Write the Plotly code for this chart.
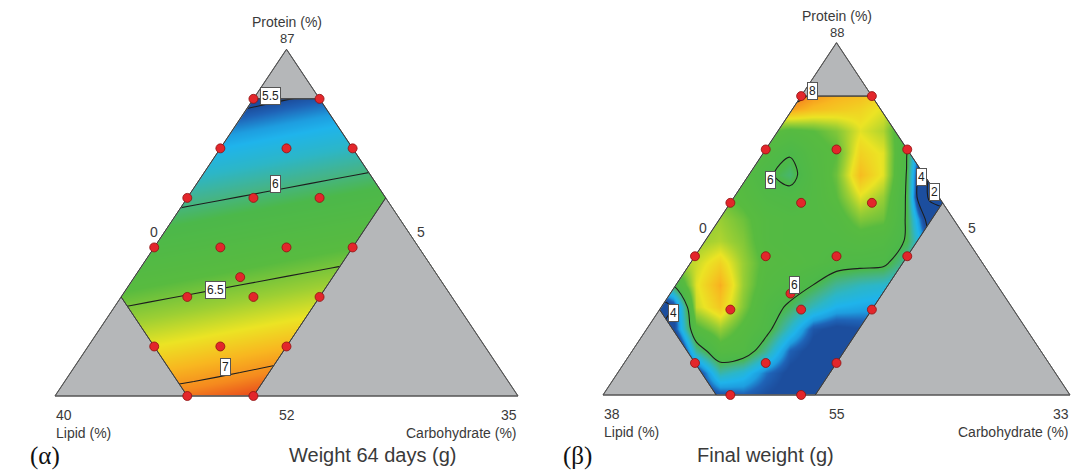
import numpy as np
import plotly.graph_objects as go

W, H = 1072, 470

# ---------------- Panel (α): Weight 64 days (g) ----------------
a_title = "Weight 64 days (g)"
a_tag = "(α)"
a_pmin, a_lmin, a_cmin, a_span = 52, 5, 0, 35
a_vertex_ticks = ["87", "40", "35"]      # protein / lipid / carbohydrate vertex
a_edge_ticks = ["52", "0", "5"]          # base / left edge / right edge
a_protein = [82, 82, 77, 77, 77, 72, 72, 72, 67, 67, 67, 67, 62, 62, 62, 57, 57, 57, 52, 52, 64]
a_lipid   = [10, 5, 15, 10, 5, 20, 15, 10, 25, 20, 15, 10, 25, 20, 15, 30, 25, 20, 30, 25, 20]
a_carb    = [0, 5, 0, 5, 10, 0, 5, 10, 0, 5, 10, 15, 5, 10, 15, 5, 10, 15, 10, 15, 8]
a_region_protein = [82, 82, 72, 52, 52, 62]
a_region_lipid   = [10, 5, 5, 25, 30, 30]
a_region_carb    = [0, 5, 15, 15, 10, 0]
a_grid_x = [0.10, 0.20, 0.30, 0.40, 0.50, 0.60, 0.70, 0.80]
a_grid_y = [0.0, 0.125, 0.25, 0.375, 0.5, 0.625, 0.75, 0.875, 1.0]
a_grid_z = [
    [6.98, 7.04, 7.08, 7.13, 7.19, 7.24, 7.29, 7.34],
    [6.74, 6.79, 6.84, 6.89, 6.94, 6.99, 7.04, 7.09],
    [6.49, 6.54, 6.59, 6.64, 6.69, 6.74, 6.79, 6.84],
    [6.24, 6.29, 6.34, 6.39, 6.44, 6.49, 6.54, 6.59],
    [6.00, 6.05, 6.10, 6.15, 6.20, 6.25, 6.30, 6.35],
    [5.75, 5.80, 5.85, 5.90, 5.95, 6.00, 6.05, 6.10],
    [5.50, 5.55, 5.60, 5.65, 5.70, 5.75, 5.80, 5.85],
    [5.25, 5.30, 5.35, 5.40, 5.46, 5.51, 5.55, 5.60],
    [5.01, 5.06, 5.11, 5.16, 5.21, 5.26, 5.31, 5.36],
]
a_levels = [5.5, 7.0, 0.5]
a_label_text = ["5.5", "6", "6.5", "7"]
a_label_x = [0.466, 0.476, 0.346, 0.369]
a_label_y = [0.866, 0.612, 0.306, 0.083]

# ---------------- Panel (β): Final weight (g) ----------------
b_title = "Final weight (g)"
b_tag = "(β)"
b_pmin, b_lmin, b_cmin, b_span = 55, 5, 0, 33
b_vertex_ticks = ["88", "38", "33"]
b_edge_ticks = ["55", "0", "5"]
b_protein = [83, 83, 78, 78, 78, 73, 73, 73, 68, 68, 68, 68, 63, 63, 63, 58, 58, 58, 55, 55, 64.5]
b_lipid   = [10, 5, 15, 10, 5, 20, 15, 10, 25, 20, 15, 10, 25, 20, 15, 30, 25, 20, 29, 24, 20]
b_carb    = [0, 5, 0, 5, 10, 0, 5, 10, 0, 5, 10, 15, 5, 10, 15, 5, 10, 15, 9, 14, 8.5]
b_region_protein = [83, 83, 73, 55, 55, 63]
b_region_lipid   = [10, 5, 5, 23, 30, 30]
b_region_carb    = [0, 5, 15, 15, 8, 0]
b_grid_x = [0.10, 0.15, 0.20, 0.25, 0.30, 0.35, 0.40, 0.45, 0.50, 0.55, 0.60, 0.65, 0.70, 0.75]
b_grid_y = [0.0, 0.0625, 0.125, 0.1875, 0.25, 0.3125, 0.375, 0.4375, 0.5, 0.5625,
            0.625, 0.6875, 0.75, 0.8125, 0.875]
b_grid_z = [
    [3.8, 3.8, 4.0, 4.4, 4.5, 4.3, 4.15, 4.1, 4.1, 4.2, 4.3, 4.4, 4.4, 4.4],
    [3.5, 3.5, 4.1, 5.5, 5.2, 4.6, 4.2, 4.1, 4.1, 4.2, 4.3, 4.4, 4.4, 4.4],
    [3.8, 3.0, 5.6, 6.5, 6.4, 5.6, 4.5, 4.15, 4.1, 4.3, 4.4, 4.5, 4.5, 4.5],
    [3.8, 4.2, 6.6, 7.0, 6.6, 6.2, 5.3, 4.4, 4.2, 4.3, 4.5, 4.6, 4.6, 4.6],
    [3.0, 4.1, 7.2, 7.6, 6.9, 6.3, 5.9, 5.4, 5.0, 4.9, 4.8, 4.7, 4.6, 4.6],
    [5.0, 6.0, 7.3, 7.8, 7.0, 6.5, 6.3, 6.0, 5.6, 5.4, 5.3, 5.1, 4.8, 4.6],
    [6.8, 7.0, 7.2, 7.5, 7.0, 6.6, 6.5, 6.4, 6.25, 6.2, 6.15, 5.5, 4.6, 4.5],
    [7.0, 7.1, 7.0, 7.1, 6.9, 6.5, 6.4, 6.4, 6.4, 6.5, 6.4, 5.95, 4.3, 4.0],
    [7.0, 7.0, 7.0, 7.0, 6.8, 6.5, 6.4, 6.4, 6.5, 6.9, 6.8, 5.95, 3.5, 2.5],
    [7.0, 7.0, 6.9, 6.8, 6.6, 6.3, 6.2, 6.4, 6.7, 7.3, 7.0, 5.95, 1.6, 1.2],
    [7.0, 7.0, 6.9, 6.8, 6.5, 6.1, 5.8, 6.4, 6.8, 7.7, 7.3, 5.98, 2.0, 1.5],
    [7.0, 7.0, 7.0, 7.0, 6.7, 6.4, 6.05, 6.5, 6.7, 7.5, 7.3, 6.05, 3.0, 2.0],
    [7.0, 7.0, 7.0, 7.0, 7.0, 6.8, 6.6, 6.7, 6.9, 7.3, 7.1, 6.2, 5.0, 4.0],
    [7.2, 7.2, 7.2, 7.2, 7.2, 7.6, 7.9, 7.7, 7.6, 7.5, 7.3, 6.8, 6.0, 5.0],
    [7.5, 7.5, 7.5, 7.5, 7.5, 8.0, 8.4, 8.1, 7.9, 7.8, 7.6, 7.0, 6.0, 5.0],
]
b_levels = [2, 8, 2]
b_label_text = ["8", "6", "6", "4", "4", "2"]
b_label_x = [0.449, 0.358, 0.409, 0.151, 0.682, 0.709]
b_label_y = [0.862, 0.610, 0.312, 0.232, 0.618, 0.577]

# ---------------- styling ----------------
palette = ["#1c4e9e", "#1f64b8", "#1e9ee0", "#1fb4ec", "#2cb6c8", "#44b48c",
           "#4cb84a", "#58bb40", "#9ccf34", "#ece424", "#f8b820", "#f58a1e", "#e8481c"]
a_stops = [0.00, 0.03, 0.08, 0.12, 0.20, 0.28, 0.36, 0.55, 0.66, 0.76, 0.85, 0.93, 1.00]
b_stops = [0.00, 0.06, 0.12, 0.18, 0.26, 0.34, 0.42, 0.60, 0.68, 0.76, 0.86, 0.93, 1.00]
GREY = "#b5b7b9"
EDGE = "#555555"
TXT = "#3a3a3a"
SANS = "Arial, Liberation Sans, sans-serif"
SERIF = "Times New Roman, Liberation Serif, DejaVu Serif, serif"

panels = [
    dict(ax="", title=a_title, tag=a_tag, pmin=a_pmin, lmin=a_lmin, cmin=a_cmin, span=a_span,
         vt=a_vertex_ticks, et=a_edge_ticks, P=a_protein, L=a_lipid, C=a_carb,
         rP=a_region_protein, rL=a_region_lipid, rC=a_region_carb,
         gx=a_grid_x, gy=a_grid_y, gz=a_grid_z, lev=a_levels, zmin=5.5, zmax=7.15, stops=a_stops,
         lt=a_label_text, lx=a_label_x, ly=a_label_y, smooth=0.6, top_shift=(11, 27),
         px0=55, px1=518, base=396, apex=49.3, xr=[-0.01, 1.004], yr=[-0.1, 1.1],
         title_xy=(287, 455), tag_xy=(28, 456)),
    dict(ax="2", title=b_title, tag=b_tag, pmin=b_pmin, lmin=b_lmin, cmin=b_cmin, span=b_span,
         vt=b_vertex_ticks, et=b_edge_ticks, P=b_protein, L=b_lipid, C=b_carb,
         rP=b_region_protein, rL=b_region_lipid, rC=b_region_carb,
         gx=b_grid_x, gy=b_grid_y, gz=b_grid_z, lev=b_levels, zmin=4.3, zmax=8.3, stops=b_stops,
         lt=b_label_text, lx=b_label_x, ly=b_label_y, smooth=1.0, top_shift=(10, 27),
         px0=603, px1=1070, base=395, apex=42.7, xr=[-0.01, 1.004], yr=[-0.1, 1.1],
         title_xy=(836, 455), tag_xy=(577, 456)),
]


def tern_xy(P, C, pmin, cmin, span):
    p = (np.asarray(P, float) - pmin) / span
    c = (np.asarray(C, float) - cmin) / span
    return c + p / 2.0, p


fig = go.Figure()
annotations = []
layout_axes = {}

for pn in panels:
    xa, ya = "x" + pn["ax"], "y" + pn["ax"]
    pmin, lmin, cmin, span = pn["pmin"], pn["lmin"], pn["cmin"], pn["span"]
    cs = [[s, c] for s, c in zip(pn["stops"], palette)]
    common = dict(xaxis=xa, yaxis=ya, hoverinfo="skip", showlegend=False)

    # response surface
    fig.add_trace(go.Heatmap(x=pn["gx"], y=pn["gy"], z=pn["gz"], zsmooth="best",
                             colorscale=cs, zmin=pn["zmin"], zmax=pn["zmax"],
                             showscale=False, **common))
    fig.add_trace(go.Contour(x=pn["gx"], y=pn["gy"], z=pn["gz"], autocontour=False,
                             contours=dict(start=pn["lev"][0], end=pn["lev"][1],
                                           size=pn["lev"][2], coloring="none"),
                             line=dict(color="#1e1e1e", width=1.1, smoothing=pn["smooth"]),
                             showscale=False, **common))

    # corners of the simplex
    apx, apy = tern_xy([pmin + span], [cmin], pmin, cmin, span)
    lcx, lcy = tern_xy([pmin], [cmin], pmin, cmin, span)
    ccx, ccy = tern_xy([pmin], [cmin + span], pmin, cmin, span)
    xr, yr = pn["xr"], pn["yr"]
    ex0, ex1, ey0, ey1 = xr[0] - 0.2, xr[1] + 0.2, yr[0] - 0.2, yr[1] + 0.2

    # white masks outside the simplex
    masks = [
        ([ex0, lcx[0], apx[0], apx[0], ex0], [lcy[0], lcy[0], apy[0], ey1, ey1]),
        ([ccx[0], ex1, ex1, apx[0], apx[0]], [ccy[0], ccy[0], ey1, ey1, apy[0]]),
        ([ex0, ex1, ex1, ex0], [ey0, ey0, lcy[0], lcy[0]]),
    ]
    for mx, my in masks:
        fig.add_trace(go.Scatter(x=mx, y=my, fill="toself", fillcolor="white", mode="lines",
                                 line=dict(width=1, color="white"), **common))

    # grey constrained-out corners
    rx, ry = tern_xy(pn["rP"], pn["rC"], pmin, cmin, span)
    corners = [
        ([apx[0], rx[0], rx[1]], [apy[0], ry[0], ry[1]]),
        ([lcx[0], rx[5], rx[4]], [lcy[0], ry[5], ry[4]]),
        ([ccx[0], rx[2], rx[3]], [ccy[0], ry[2], ry[3]]),
    ]
    for gxv, gyv in corners:
        fig.add_trace(go.Scatter(x=gxv + [gxv[0]], y=gyv + [gyv[0]], fill="toself",
                                 fillcolor=GREY, mode="lines",
                                 line=dict(width=1, color=EDGE), **common))
    # outlines
    fig.add_trace(go.Scatter(x=[lcx[0], apx[0], ccx[0], lcx[0]], y=[lcy[0], apy[0], ccy[0], lcy[0]],
                             mode="lines", line=dict(width=1, color=EDGE), **common))
    fig.add_trace(go.Scatter(x=list(rx) + [rx[0]], y=list(ry) + [ry[0]], mode="lines",
                             line=dict(width=1, color="#3c3c3c"), **common))

    # design points
    dx, dy = tern_xy(pn["P"], pn["C"], pmin, cmin, span)
    fig.add_trace(go.Scatter(x=dx, y=dy, mode="markers",
                             marker=dict(symbol="circle", size=9, color="#e3262b",
                                         line=dict(color="#8e1212", width=0.8)), **common))

    # contour labels
    for t, lx, ly in zip(pn["lt"], pn["lx"], pn["ly"]):
        annotations.append(dict(x=lx, y=ly, xref=xa, yref=ya, text=t, showarrow=False,
                                font=dict(family=SANS, size=12, color="#222"),
                                bgcolor="white", bordercolor="#555", borderwidth=1, borderpad=1))

    # vertex / edge tick labels and component names
    small = dict(family=SANS, size=14, color=TXT)
    num = dict(family=SANS, size=13, color=TXT)
    annotations += [
        dict(x=apx[0], y=apy[0], xref=xa, yref=ya, text=pn["vt"][0], showarrow=False,
             font=num, yanchor="middle", yshift=pn["top_shift"][0]),
        dict(x=apx[0], y=apy[0], xref=xa, yref=ya, text="Protein (%)", showarrow=False,
             font=small, yanchor="middle", yshift=pn["top_shift"][1]),
        dict(x=lcx[0], y=lcy[0], xref=xa, yref=ya, text=pn["vt"][1], showarrow=False,
             font=small, xanchor="left", yanchor="middle", yshift=-19, xshift=-1),
        dict(x=lcx[0], y=lcy[0], xref=xa, yref=ya, text="Lipid (%)", showarrow=False,
             font=small, xanchor="left", yanchor="middle", yshift=-37, xshift=-1),
        dict(x=ccx[0], y=ccy[0], xref=xa, yref=ya, text=pn["vt"][2], showarrow=False,
             font=small, xanchor="right", yanchor="middle", yshift=-19, xshift=1),
        dict(x=ccx[0], y=ccy[0], xref=xa, yref=ya, text="Carbohydrate (%)", showarrow=False,
             font=small, xanchor="right", yanchor="middle", yshift=-37, xshift=1),
        dict(x=0.5 * (lcx[0] + ccx[0]), y=lcy[0], xref=xa, yref=ya, text=pn["et"][0],
             showarrow=False, font=small, yanchor="middle", yshift=-19),
        dict(x=0.5 * (lcx[0] + apx[0]), y=0.5 * apy[0], xref=xa, yref=ya, text=pn["et"][1],
             showarrow=False, font=small, yanchor="middle", xshift=-17, yshift=-9),
        dict(x=0.5 * (ccx[0] + apx[0]), y=0.5 * apy[0], xref=xa, yref=ya, text=pn["et"][2],
             showarrow=False, font=small, yanchor="middle", xshift=19, yshift=-9),
        dict(x=pn["title_xy"][0] / W, y=1 - pn["title_xy"][1] / H, xref="paper", yref="paper",
             text=pn["title"], showarrow=False, font=dict(family=SANS, size=20, color=TXT),
             yanchor="middle"),
        dict(x=pn["tag_xy"][0] / W, y=1 - pn["tag_xy"][1] / H, xref="paper", yref="paper",
             text=pn["tag"], showarrow=False, font=dict(family=SERIF, size=25, color="#111"),
             yanchor="middle"),
    ]

    # axes placed so the simplex lands where it sits in the figure
    hpx = pn["base"] - pn["apex"]
    dom_x = [(pn["px0"] + xr[0] * (pn["px1"] - pn["px0"])) / W,
             (pn["px0"] + xr[1] * (pn["px1"] - pn["px0"])) / W]
    dom_y = [(H - (pn["base"] - yr[0] * hpx)) / H, (H - (pn["base"] - yr[1] * hpx)) / H]
    axis_style = dict(visible=False, showgrid=False, zeroline=False, fixedrange=True)
    layout_axes["xaxis" + pn["ax"]] = dict(domain=dom_x, range=xr, anchor=ya, **axis_style)
    layout_axes["yaxis" + pn["ax"]] = dict(domain=dom_y, range=yr, anchor=xa, **axis_style)

fig.update_layout(width=W, height=H, margin=dict(l=0, r=0, t=0, b=0),
                  paper_bgcolor="white", plot_bgcolor="white",
                  annotations=annotations, showlegend=False, **layout_axes)
fig.write_html("out.html", config={"displayModeBar": False},
               post_script="document.body.style.margin='0px';document.body.style.overflow='hidden';")
